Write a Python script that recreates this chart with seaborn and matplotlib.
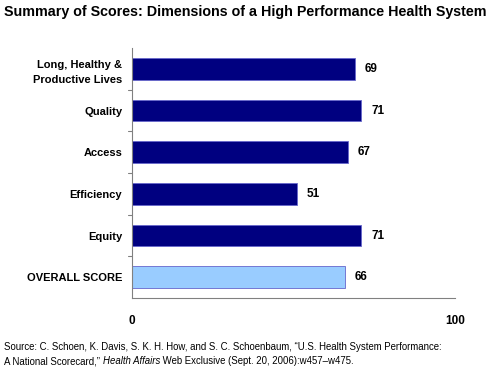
import matplotlib
matplotlib.use("Agg")
import matplotlib.pyplot as plt
import seaborn as sns
import pandas as pd

categories = ["Long, Healthy &\nProductive Lives", "Quality", "Access", "Efficiency", "Equity", "OVERALL SCORE"]
scores = [69, 71, 67, 51, 71, 66]
bar_colors = ["#000080", "#000080", "#000080", "#000080", "#000080", "#99CCFF"]
x_ticks = [0, 100]

df = pd.DataFrame({"category": categories, "score": scores})

sns.set_theme(style="white")
plt.rcParams["font.family"] = ["Liberation Sans", "DejaVu Sans"]
plt.rcParams["text.color"] = "black"
plt.rcParams["xtick.color"] = "black"
plt.rcParams["ytick.color"] = "black"

fig = plt.figure(figsize=(4.9, 3.71), dpi=100)
ax = fig.add_axes([132 / 490, 1 - 298 / 371, 323 / 490, 250 / 371])

sns.barplot(data=df, x="score", y="category", hue="category", palette=bar_colors,
            saturation=1, legend=False, width=0.52, edgecolor="#6666cc", linewidth=0.6, ax=ax)

ax.set_xlim(0, 100)
ax.set_ylim(len(categories) - 0.5, -0.5)
ax.set_xticks(x_ticks)
ax.set_xticklabels([str(t) for t in x_ticks], fontweight="bold", fontsize=8.5)
ax.set_yticks(range(len(categories)))
ax.set_yticklabels(categories, fontweight="bold", fontsize=8, linespacing=1.6)
ax.set_xlabel("")
ax.set_ylabel("")
ax.tick_params(axis="y", length=0, pad=7)
ax.tick_params(axis="x", length=3, pad=12, direction="in", color="#808080")
for yb in [0.5, 1.5, 2.5, 3.5, 4.5]:
    ax.plot([-0.012, 0], [yb, yb], color="#808080", lw=0.8, clip_on=False,
            transform=ax.get_yaxis_transform())

for side in ["top", "right"]:
    ax.spines[side].set_visible(False)
for side in ["left", "bottom"]:
    ax.spines[side].set_color("#808080")
    ax.spines[side].set_linewidth(0.8)

for i, v in enumerate(scores):
    ax.text(v + 3, i, str(v), va="center", ha="left", fontweight="bold", fontsize=8.5)

fig.text(0.5, 1 - 12 / 371, "Summary of Scores: Dimensions of a High Performance Health System",
         ha="center", va="center", fontweight="bold", fontsize=10.25)

fs = 6.9
fig.text(4 / 490, 1 - 347 / 371,
         "Source: C. Schoen, K. Davis, S. K. H. How, and S. C. Schoenbaum, \u201cU.S. Health System Performance:",
         ha="left", va="center", fontsize=fs)
t1 = fig.text(4 / 490, 1 - 361 / 371, "A National Scorecard,\u201d ", ha="left", va="center", fontsize=fs)
fig.canvas.draw()
r = fig.canvas.get_renderer()
bb = t1.get_window_extent(r)
t2 = fig.text(bb.x1 / fig.bbox.width, 1 - 361 / 371, "Health Affairs", ha="left", va="center",
              fontsize=fs, style="italic")
bb2 = t2.get_window_extent(r)
fig.text(bb2.x1 / fig.bbox.width, 1 - 361 / 371, " Web Exclusive (Sept. 20, 2006):w457\u2013w475.",
         ha="left", va="center", fontsize=fs)

fig.savefig("out.png", dpi=100)
